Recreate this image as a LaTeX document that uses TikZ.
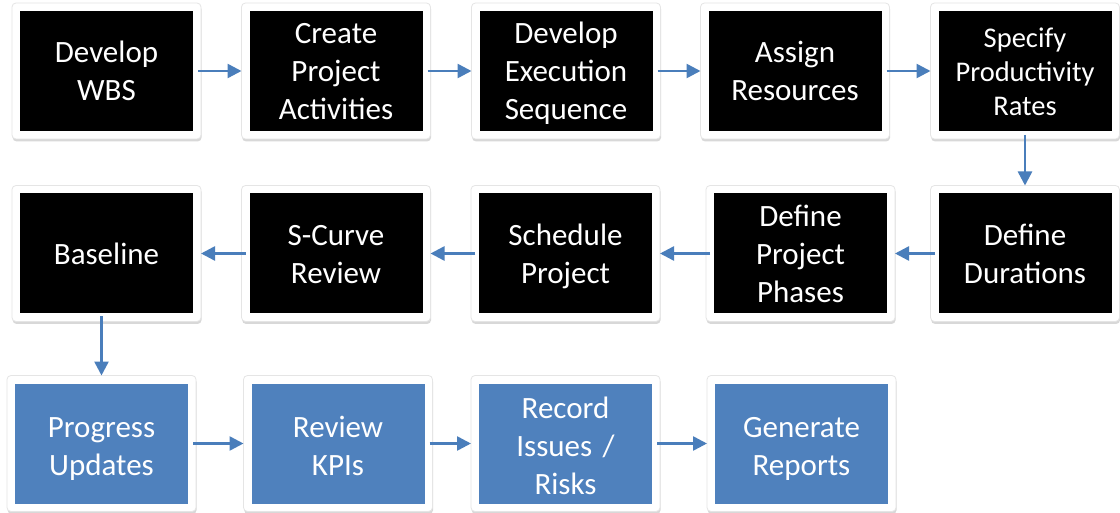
\documentclass[tikz,border=0pt]{standalone}
\usepackage{fontspec}
\setmainfont{Carlito}
\usetikzlibrary{shadows,arrows.meta,calc}
\definecolor{arrowblue}{HTML}{4A7EBB}
\definecolor{boxblue}{HTML}{4F81BD}
\definecolor{cornergreen}{HTML}{1E7A3C}
\tikzset{
  frame/.style={draw=black!10, line width=0.8pt, fill=white, rounded corners=4pt, minimum width=189pt, minimum height=136pt,
    inner sep=0pt, outer sep=0pt,
    drop shadow={shadow xshift=0.6pt, shadow yshift=-2.5pt, opacity=0.3, fill=black!50}},
  topstrut/.style={execute at begin node={\rule{0pt}{#1}}},
  blk/.style={fill=black, text=white, minimum width=173pt, minimum height=120pt, inner sep=0pt, outer sep=0pt,
    text width=170pt, align=center, font=\fontsize{31}{38}\selectfont,
    topstrut=31pt, execute at end node={\rule[-9pt]{0pt}{0pt}}},
  blu/.style={blk, fill=boxblue, topstrut=35pt},
  arr/.style={draw=arrowblue, line width=2.5pt, -{Triangle[length=14pt,width=14pt]}}
}
\begin{document}
\begin{tikzpicture}[x=1pt,y=-1pt]
\useasboundingbox (0,0) rectangle (1120,513);
\fill[white] (0,0) rectangle (1120,513);
\fill[cornergreen] (0,0) -- (9,0) arc[start angle=0,end angle=-90,radius=9] -- cycle;
\fill[white] (0,0) -- (6,0) arc[start angle=0,end angle=-90,radius=6] -- cycle;
% row 1
\node[frame] (f1) at (106.5,71) {};
\node[blk] (b1) at (106.5,71) {Develop\\WBS};
\node[frame] (f2) at (336,71) {};
\node[blk] (b2) at (336,71) {Create\\Project\\Activities};
\node[frame] (f3) at (566,71) {};
\node[blk] (b3) at (566,71) {Develop\\Execution\\Sequence};
\node[frame] (f4) at (795,71) {};
\node[blk] (b4) at (795,71) {Assign\\Resources};
\node[frame] (f5) at (1025,71) {};
\node[blk, font=\fontsize{28.5}{34}\selectfont, topstrut=27pt] (b5) at (1025,71) {Specify\\Productivity\\Rates};
% row 2
\node[frame] (f6) at (106.5,253.5) {};
\node[blk] (b6) at (106.5,253.5) {Baseline};
\node[frame] (f7) at (336,253.5) {};
\node[blk] (b7) at (336,253.5) {S-Curve\\Review};
\node[frame] (f8) at (565.5,253.5) {};
\node[blk] (b8) at (565.5,253.5) {Schedule\\Project};
\node[frame] (f9) at (800.5,253.5) {};
\node[blk] (b9) at (800.5,253.5) {Define\\Project\\Phases};
\node[frame] (f10) at (1025,253.5) {};
\node[blk] (b10) at (1025,253.5) {Define\\Durations};
% row 3
\node[frame] (f11) at (101.5,443.5) {};
\node[blu] (b11) at (101.5,443.5) {Progress\\Updates};
\node[frame] (f12) at (338,443.5) {};
\node[blu] (b12) at (338,443.5) {Review\\KPIs};
\node[frame] (f13) at (565.5,443.5) {};
\node[blu] (b13) at (565.5,443.5) {Record\\Issues /\\Risks};
\node[frame] (f14) at (801.5,443.5) {};
\node[blu] (b14) at (801.5,443.5) {Generate\\Reports};
% arrows
\draw[arr] ([xshift=5pt]b1.east) -- (f2.west);
\draw[arr] ([xshift=5pt]b2.east) -- (f3.west);
\draw[arr] ([xshift=5pt]b3.east) -- (f4.west);
\draw[arr] ([xshift=5pt]b4.east) -- (f5.west);
\draw[arr] ([yshift=-4pt]b5.south) -- (f10.north);
\draw[arr] ([xshift=-4pt]b10.west) -- (f9.east);
\draw[arr] ([xshift=-4pt]b9.west) -- (f8.east);
\draw[arr] ([xshift=-4pt]b8.west) -- (f7.east);
\draw[arr] ([xshift=-4pt]b7.west) -- (f6.east);
\draw[arr] ($(b11.north |- b6.south)+(0,3)$) -- (f11.north);
\draw[arr] ([xshift=5pt]b11.east) -- (f12.west);
\draw[arr] ([xshift=5pt]b12.east) -- (f13.west);
\draw[arr] ([xshift=5pt]b13.east) -- (f14.west);
\end{tikzpicture}
\end{document}
